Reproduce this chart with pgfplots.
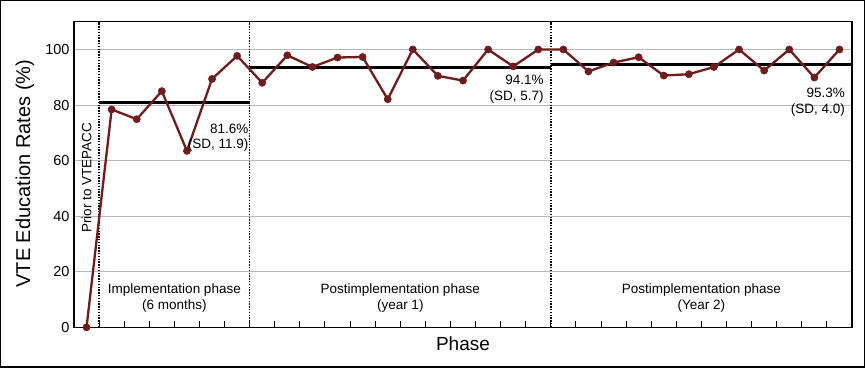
\documentclass[border=0pt]{standalone}
\usepackage{fontspec}
\setmainfont{Liberation Sans}
\usepackage{pgfplots}
\pgfplotsset{compat=1.18}
\definecolor{maroon}{HTML}{6E1C1C}
\newcommand\af{\fontsize{13.5}{15.7}\selectfont}
\begin{document}
\begin{tikzpicture}
\begin{axis}[name=ax, scale only axis, width=778pt, height=305.6pt,
  xmin=-0.5, xmax=30.5, ymin=0, ymax=110,
  clip=false,
  xtick={0.5,1.5,...,30.5}, xticklabels={},
  ytick={0,20,...,100},
  xtick pos=lower, ytick pos=left,
  tick align=inside,
  major tick length=6pt,
  x tick style={black, line width=1pt},
  y tick style={draw=none},
  ymajorgrids, grid style={black!28, line width=0.9pt},
  axis line style={line width=1.5pt},
  /pgf/number format/assume math mode=true,
  yticklabel style={font=\fontsize{14.5}{14.5}\selectfont, xshift=-1pt},
  ylabel={VTE Education Rates (\%)},
  ylabel style={at={(axis description cs:-0.063,0.503)}, anchor=center, font=\fontsize{20}{20}\selectfont},
  xlabel={Phase},
  xlabel style={at={(axis description cs:0.5,0)}, yshift=-16pt, anchor=center, font=\fontsize{19}{19}\selectfont},
]
% phase separators
\addplot[black, line width=1.6pt, dash pattern=on 1.4pt off 1.4pt] coordinates {(0.5,0) (0.5,110)};
\addplot[black, line width=1.6pt, dash pattern=on 1.4pt off 1.4pt] coordinates {(6.5,0) (6.5,110)};
\addplot[black, line width=1.6pt, dash pattern=on 1.4pt off 1.4pt] coordinates {(18.5,0) (18.5,110)};
% means
\addplot[black, line width=2.9pt] coordinates {(0.5,80.9) (6.5,80.9)};
\addplot[black, line width=2.9pt] coordinates {(6.5,93.5) (18.5,93.5)};
\addplot[black, line width=2.9pt] coordinates {(18.5,94.5) (30.5,94.5)};
% data
\addplot[maroon, line width=2.3pt, mark=*, mark size=3.6pt, mark options={fill=maroon, draw=maroon, solid, line width=0.5pt}] coordinates {
(0,0)
(1,78.4) (2,74.9) (3,85.0) (4,63.5) (5,89.4) (6,97.7)
(7,88.0) (8,97.9) (9,93.7) (10,97.1) (11,97.3) (12,82.1) (13,100) (14,90.5) (15,88.8) (16,100) (17,93.9) (18,100)
(19,100) (20,92.1) (21,95.3) (22,97.2) (23,90.6) (24,91.1) (25,93.7) (26,100) (27,92.4) (28,100) (29,89.9) (30,100)
};
% annotations
\node[anchor=east, align=right, inner sep=0pt, font=\af, xshift=-1pt] at (axis cs:6.5,68.2) {81.6\%\\(SD, 11.9)};
\node[anchor=east, align=right, inner sep=0pt, font=\af, xshift=-7pt] at (axis cs:18.5,85.6) {94.1\%\\(SD, 5.7)};
\node[anchor=east, align=right, inner sep=0pt, font=\af, xshift=-7pt] at (axis cs:30.5,81) {95.3\%\\(SD, 4.0)};
\node[align=center, inner sep=0pt, font=\af] at (axis cs:3.5,10.5) {Implementation phase\\(6 months)};
\node[align=center, inner sep=0pt, font=\af] at (axis cs:12.5,10.5) {Postimplementation phase\\(year 1)};
\node[align=center, inner sep=0pt, font=\af] at (axis cs:24.5,10.5) {Postimplementation phase\\(Year 2)};
\node[rotate=90, inner sep=0pt, font=\af] at (axis cs:0,53.8) {Prior to VTEPACC};
\end{axis}
\draw[line width=1.5pt] ([shift={(-73.25pt,-39.95pt)}]ax.south west) rectangle ([shift={(12.25pt,20.95pt)}]ax.north east);
\end{tikzpicture}
\end{document}
